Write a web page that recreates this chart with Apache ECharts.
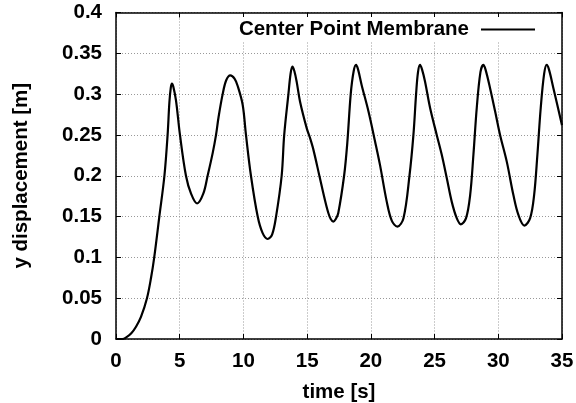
<!DOCTYPE html>
<html>
<head>
<meta charset="utf-8">
<script src="https://cdn.jsdelivr.net/npm/echarts@6/dist/echarts.min.js"></script>
<style>
  html, body { margin: 0; padding: 0; background: #fff; }
  #chart { width: 576px; height: 403px; }
</style>
</head>
<body>
<div id="chart"></div>
<script>
// time [s] and y displacement [m]
var time = [0, 0.5, 0.8, 1.2, 1.57, 1.96, 2.43, 2.75, 3.0, 3.4, 3.8, 4.05, 4.19, 4.3, 4.39, 4.5, 4.71, 5.02, 5.49, 5.89,
  6.36, 6.85, 7.19, 7.59, 7.85, 8.05, 8.37, 8.65, 8.97, 9.3, 9.55, 9.94, 10.2, 10.59, 11.12, 11.5, 11.9, 12.25, 12.56, 13.0,
  13.2, 13.53, 13.7, 13.84, 14.0, 14.18, 14.44, 14.97, 15.23, 15.49, 15.96, 16.4, 16.67, 16.85, 17.05, 17.25, 17.44, 17.9, 18.15, 18.42,
  18.65, 18.84, 19.0, 19.28, 19.81, 20.33, 20.72, 21.25, 21.64, 22.08, 22.56, 23.03, 23.34, 23.55, 23.7, 23.86, 24.02, 24.25, 24.65, 25.17,
  25.56, 25.96, 26.35, 26.74, 27.06, 27.47, 27.79, 28.05, 28.31, 28.6, 28.83, 29.0, 29.36, 29.75, 30.14, 30.67, 31.19, 31.58, 32.05, 32.5,
  32.81, 33.07, 33.33, 33.6, 33.8, 33.98, 34.33, 35.0];
var disp = [0, 0, 0.002, 0.007, 0.015, 0.027, 0.05, 0.075, 0.1, 0.15, 0.2, 0.25, 0.29, 0.308, 0.313, 0.309, 0.292, 0.25, 0.2, 0.178,
  0.166, 0.178, 0.2, 0.228, 0.25, 0.272, 0.3, 0.317, 0.323, 0.319, 0.31, 0.287, 0.25, 0.2, 0.15, 0.13, 0.1225, 0.128, 0.15, 0.2,
  0.25, 0.3, 0.325, 0.3337, 0.328, 0.315, 0.291, 0.258, 0.246, 0.232, 0.2, 0.17, 0.154, 0.147, 0.1438, 0.147, 0.154, 0.2, 0.24, 0.3,
  0.328, 0.3358, 0.33, 0.311, 0.279, 0.242, 0.213, 0.168, 0.145, 0.1376, 0.148, 0.2, 0.25, 0.3, 0.327, 0.3358, 0.33, 0.3155, 0.283, 0.25,
  0.226, 0.197, 0.168, 0.148, 0.1405, 0.148, 0.176, 0.226, 0.283, 0.327, 0.3358, 0.33, 0.307, 0.279, 0.25, 0.217, 0.176, 0.152, 0.139, 0.148,
  0.176, 0.226, 0.283, 0.325, 0.3358, 0.33, 0.307, 0.262];

var seriesName = 'Center Point Membrane';

var pts = [];
for (var i = 0; i < time.length; i++) {
  pts.push([time[i], disp[i]]);
}

var myChart = echarts.init(document.getElementById('chart'));

var font = {
  fontFamily: 'Liberation Sans',
  fontWeight: 'bold',
  fontSize: 20.5,
  color: '#000'
};
var gridLine = {
  show: true,
  lineStyle: { color: '#999', width: 1, type: [1, 2] }
};
var frame = { show: true, onZero: false, lineStyle: { color: '#000', width: 1.5 } };

var option = {
  animation: false,
  grid: { left: 116, right: 14, top: 12.5, bottom: 64, outerBoundsMode: 'none', containLabel: false },
  legend: {
    data: [seriesName],
    right: 31,
    top: 17,
    padding: [2, 9, 1, 5],
    backgroundColor: '#fff',
    align: 'right',
    itemWidth: 54,
    itemHeight: 20,
    itemStyle: { opacity: 0 },
    lineStyle: { color: '#000', width: 2 },
    textStyle: Object.assign({}, font, { padding: [0, 7, 0, 0] })
  },
  xAxis: [
    {
      type: 'value',
      min: 0, max: 35, interval: 5,
      name: 'time [s]',
      nameLocation: 'middle',
      nameGap: 43,
      nameTextStyle: font,
      axisLine: frame,
      axisTick: { show: true, inside: true, length: 5, lineStyle: { color: '#000' } },
      axisLabel: Object.assign({ margin: 12 }, font),
      splitLine: gridLine
    },
    {
      type: 'value',
      position: 'top',
      min: 0, max: 35, interval: 5,
      axisLine: frame,
      axisTick: { show: true, inside: true, length: 5, lineStyle: { color: '#000' } },
      axisLabel: { show: false },
      splitLine: { show: false }
    }
  ],
  yAxis: [
    {
      type: 'value',
      min: 0, max: 0.4, interval: 0.05,
      name: 'y displacement [m]',
      nameLocation: 'middle',
      nameGap: 84,
      nameTextStyle: font,
      axisLine: frame,
      axisTick: { show: true, inside: true, length: 5, lineStyle: { color: '#000' } },
      axisLabel: Object.assign({ margin: 14 }, font),
      splitLine: gridLine
    },
    {
      type: 'value',
      position: 'right',
      min: 0, max: 0.4, interval: 0.05,
      axisLine: frame,
      axisTick: { show: true, inside: true, length: 5, lineStyle: { color: '#000' } },
      axisLabel: { show: false },
      splitLine: { show: false }
    }
  ],
  series: [
    {
      name: seriesName,
      type: 'line',
      data: pts,
      symbol: 'none',
      smooth: 0.35,
      color: '#000',
      lineStyle: { color: '#000', width: 2.2 }
    }
  ]
};

myChart.setOption(option);
</script>
</body>
</html>
